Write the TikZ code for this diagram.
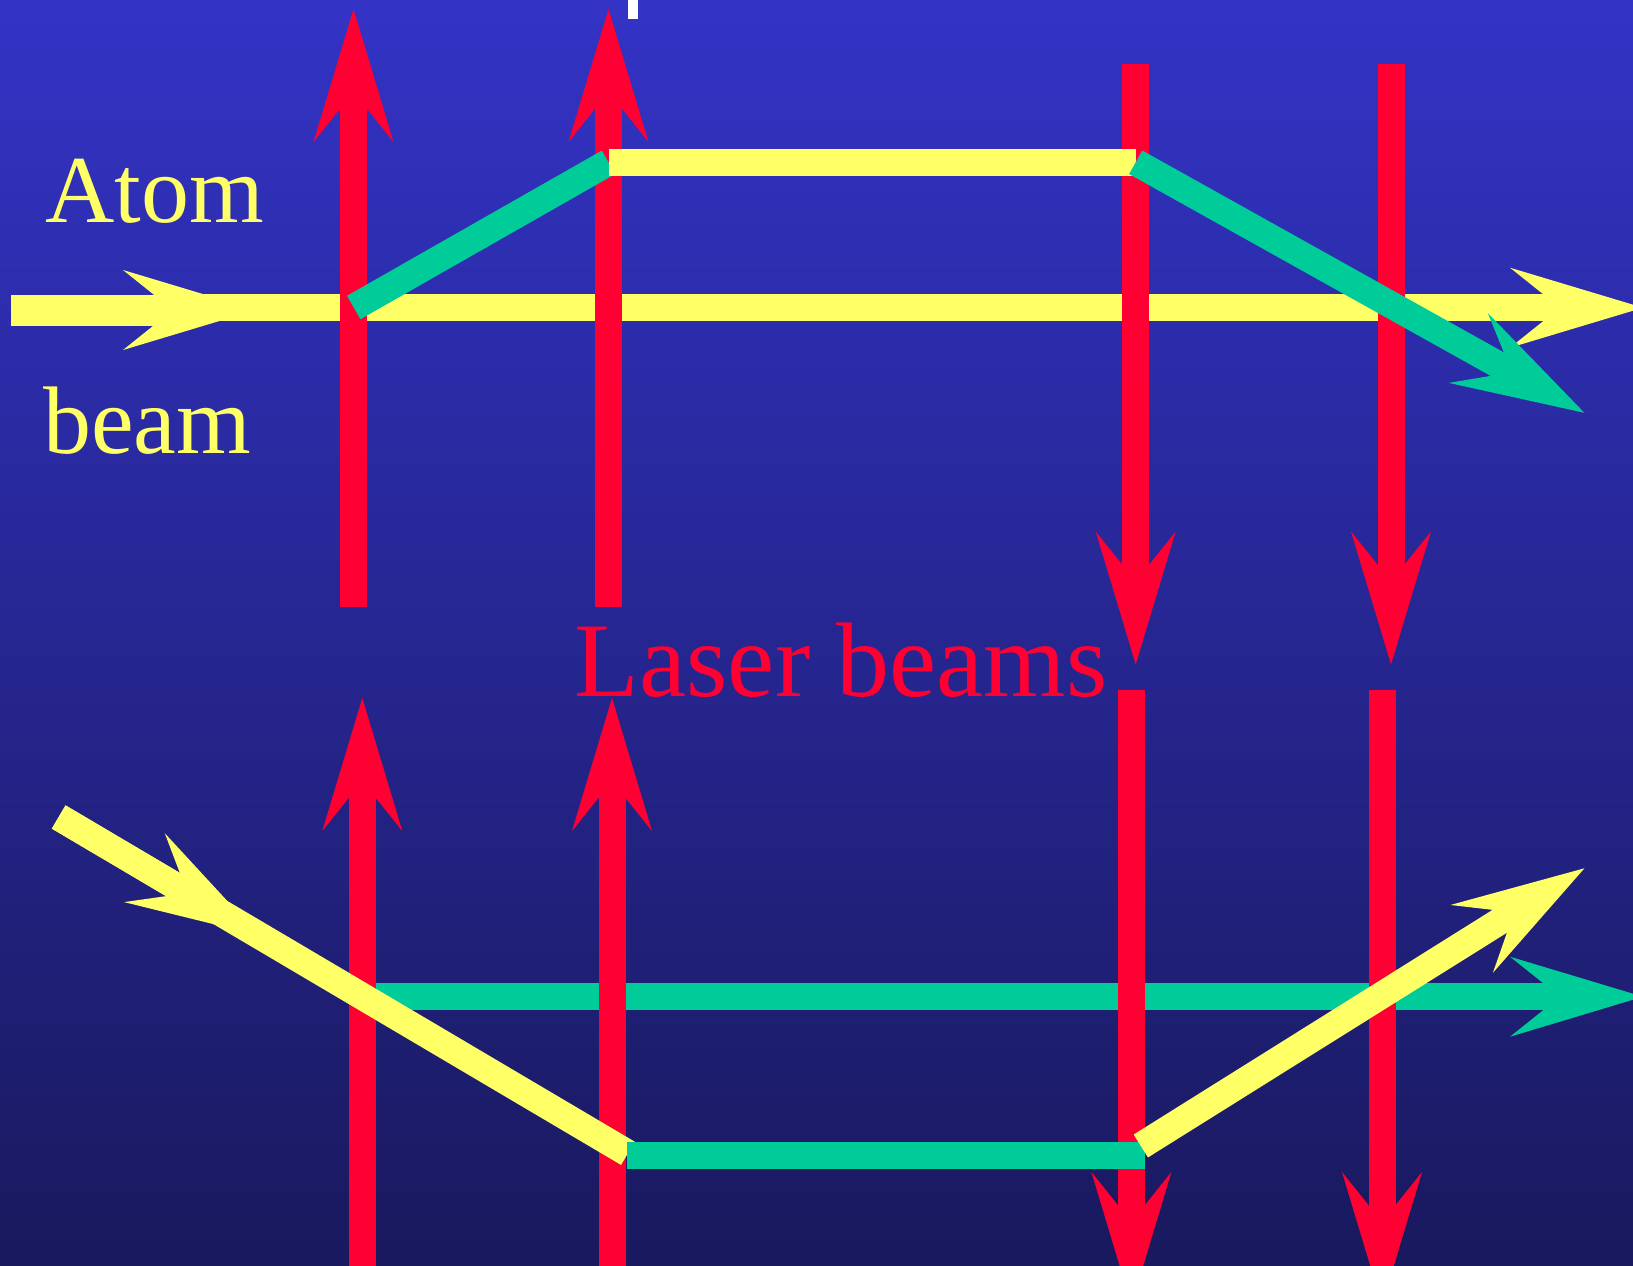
\documentclass[tikz,border=0pt]{standalone}
\usepackage{fontspec}
\setmainfont{Liberation Serif}
\usetikzlibrary{arrows.meta,calc}
\definecolor{bgtop}{RGB}{51,51,198}
\definecolor{bgbot}{RGB}{25,25,94}
\definecolor{laser}{RGB}{255,0,51}
\definecolor{atomy}{RGB}{255,255,102}
\definecolor{atomg}{RGB}{0,204,153}

\begin{document}
\begin{tikzpicture}[
  x=1pt, y=-1pt,
  beam/.style={line width=27pt},
  beamtip/.style={-{Stealth[length=133pt, width=80pt, inset=50pt, line width=0pt]}},
  lbl/.style={inner sep=0pt, anchor=base west, font=\fontsize{96}{110}\selectfont},
]
\useasboundingbox (0,0) rectangle (1633,1266);
\clip (0,0) rectangle (1633,1266);
\shade[top color=bgtop, bottom color=bgbot] (0,0) rectangle (1633,1266);
\fill[white] (627.7,-2) rectangle (638.3,19);

% ---------- undeflected beams (under the lasers) ----------
\coordinate (uin) at (10.7,310);
\coordinate (umid) at (256,310);
\coordinate (ufrom) at (200,307.7);
\coordinate (uout) at (1643,307.7);
\draw[beam, atomy, line width=31pt, beamtip] (uin) -- (umid);
\draw[beam, atomy, beamtip] (ufrom) -- (uout);

\coordinate (lin) at (362.3,996.7);
\coordinate (lout) at (1643,996.7);
\draw[beam, atomg, beamtip] (lin) -- (lout);

% ---------- laser beams ----------
\foreach \x [count=\i] in {353.5,608.5}{
  \coordinate (tu\i) at (\x,607);
  \coordinate (tu\i tip) at (\x,9);
  \draw[beam, laser, beamtip] (tu\i) -- (tu\i tip);
}
\foreach \x [count=\i] in {1135.7,1391}{
  \coordinate (td\i) at (\x,64);
  \coordinate (td\i tip) at (\x,664.5);
  \draw[beam, laser, beamtip] (td\i) -- (td\i tip);
}
\foreach \x [count=\i] in {362.3,612}{
  \coordinate (bu\i) at (\x,1290);
  \coordinate (bu\i tip) at (\x,698);
  \draw[beam, laser, beamtip] (bu\i) -- (bu\i tip);
}
\foreach \x [count=\i] in {1131.4,1382}{
  \coordinate (bd\i) at (\x,690);
  \coordinate (bd\i tip) at (\x,1305);
  \draw[beam, laser, beamtip] (bd\i) -- (bd\i tip);
}

% ---------- deflected paths (over the lasers) ----------
\coordinate (p1) at (353.7,307.5);
\coordinate (p2) at (608.5,162.3);
\coordinate (p3) at (1135.7,162.3);
\coordinate (p4) at (1584.4,412.8);
\draw[beam, atomg] (p1) -- (p2);
\draw[beam, atomy] (p2) -- (p3);
\draw[beam, atomg, beamtip] (p3) -- (p4);

\coordinate (q1) at (58.7,817);
\coordinate (q2) at (627.9,1153.3);
\coordinate (qm) at ($(q1)!232.6pt!(q2)$);
\coordinate (q3) at (627,1155);
\coordinate (q4) at (1144.8,1155);
\coordinate (q5) at (1140.8,1146);
\coordinate (q6) at (1584.4,868.3);
\draw[beam, atomy] (q1) -- (q2);
\draw[beam, atomy, beamtip] (q1) -- (qm);
\draw[beam, atomg] (q3) -- (q4);
\draw[beam, atomy, beamtip] (q5) -- (q6);

% ---------- labels ----------
\node[lbl, text=atomy] (atom) at (45.3,222.7) {Atom};
\node[lbl, text=atomy] (beamlbl) at (43,453.3) {beam};
\node[lbl, text=laser, font=\fontsize{106}{120}\selectfont] (lasers) at (574.7,696.7) {Laser beams};

\end{tikzpicture}
\end{document}
